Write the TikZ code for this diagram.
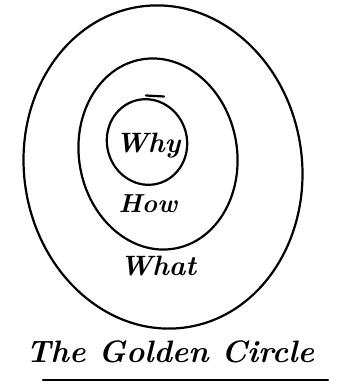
\documentclass[tikz,border=0pt]{standalone}
\begin{document}
\begin{tikzpicture}[x=1pt,y=-1pt,
  ring/.style={line width=2.2pt,line join=round,line cap=round},
  hand/.style={inner sep=0pt,anchor=center}]
\useasboundingbox (0,0) rectangle (337,389);
% outer ring
\draw[ring,rotate around={8:(163,167)}] (163,167) ellipse [x radius=139, y radius=162];
% middle ring
\draw[ring,rotate around={10:(158,154)}] (158,154) ellipse [x radius=79, y radius=96];
% inner ring
\draw[ring,rotate around={15:(147,142)}] (147,142) ellipse [x radius=40, y radius=43];
\draw[ring] (146,95.5) -- (164,96.5);
% labels
\node[hand,font=\bfseries\itshape\fontsize{28}{28}\selectfont] (why) at (148,146) {Why};
\node[hand,font=\bfseries\itshape\fontsize{26}{26}\selectfont] (how) at (148,204) {How};
\node[hand,font=\bfseries\itshape\fontsize{28}{28}\selectfont] (what) at (158,266) {What};
\node[hand,font=\bfseries\itshape\fontsize{31}{31}\selectfont] (title) at (170,352) {The Golden Circle};
\coordinate (ul) at (43,380);
\coordinate (ur) at (328,380);
\draw[ring] (ul) -- (ur);
\end{tikzpicture}
\end{document}
